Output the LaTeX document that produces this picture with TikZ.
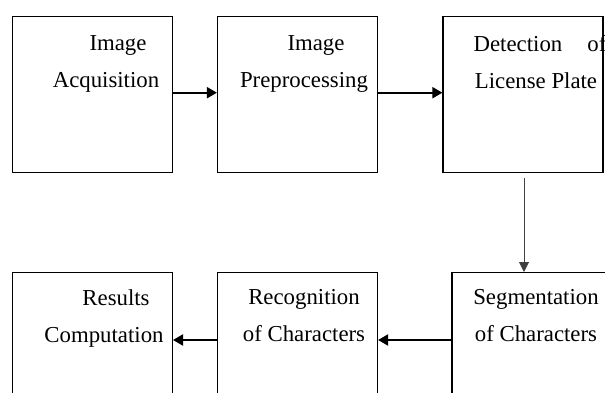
\documentclass[tikz,border=0pt]{standalone}
\usepackage{fontspec}
\setmainfont{Liberation Serif}
\usetikzlibrary{arrows.meta}

\begin{document}
\begin{tikzpicture}[
    x=0.5pt, y=0.5pt,
    stage/.style={draw, line width=0.6pt, minimum width=80pt, minimum height=78pt, inner sep=0pt},
    caption/.style={anchor=north, align=center, inner sep=0pt, font=\fontsize{11.4}{18.7}\selectfont},
    flow/.style={line width=1pt, -{Triangle[length=5pt,width=5.5pt]}},
    down/.style={line width=0.5pt, -{Triangle[length=5pt,width=5pt]}}]
    \useasboundingbox (0,0) rectangle (605,392);
    \clip (0,0) rectangle (605,392);

    % Top row
    \node[stage] (acq) at (92.4,297.2) {};
    \node[stage] (pre) at (297.5,297.2) {};
    \node[stage] (det) at (523,297.2) {};

    % Bottom row (runs off the page)
    \node[stage] (res) at (92.4,41.4) {};
    \node[stage] (rec) at (297.5,41.4) {};
    \node[stage, minimum width=90pt] (seg) at (542,41.4) {};

    % Labels
    \node[caption] (acqtext) at (106,357) {\hspace*{12pt}Image\\Acquisition};
    \node[caption] (pretext) at (304,357) {\hspace*{12pt}Image\\Preprocessing};
    \node[caption] (dettext) at (540,357) {Detection\hspace{1.1em}of\\License Plate\hspace*{4pt}};
    \node[caption] (restext) at (104,103) {\hspace*{12pt}Results\\Computation};
    \node[caption] (rectext) at (304,103) {Recognition\\of Characters};
    \node[caption] (segtext) at (536,103) {Segmentation\\of Characters};

    % Connectors
    \draw[flow] (acq.east |- 0,299.3) -- (pre.west |- 0,299.3);
    \draw[flow] (pre.east |- 0,299.3) -- (det.west |- 0,299.3);
    \coordinate (bend) at (524,214);
    \draw[down, black!75] (bend) -- (bend |- seg.north);
    \draw[flow] (seg.west |- 0,52) -- (rec.east |- 0,52);
    \draw[flow] (rec.west |- 0,52) -- (res.east |- 0,52);
\end{tikzpicture}
\end{document}
